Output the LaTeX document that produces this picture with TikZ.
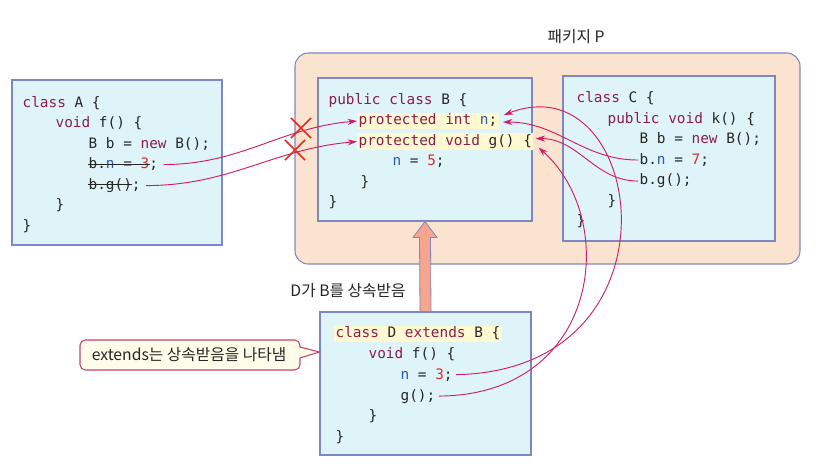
\documentclass[tikz,border=0pt]{standalone}
\usepackage{fontspec}
\setmonofont{DejaVu Sans Mono}
\newfontfamily\kofont{Noto Sans CJK KR}
\usetikzlibrary{arrows.meta,calc,fit,shapes.misc}

\definecolor{pkgfill}{HTML}{FBE4CF}
\definecolor{boxfill}{HTML}{DFF4F8}
\definecolor{boxline}{HTML}{7F86C4}
\definecolor{hlyellow}{HTML}{FFF9D2}
\definecolor{kwred}{HTML}{8A1D4E}
\definecolor{idblue}{HTML}{2B58A8}
\definecolor{numred}{HTML}{D2302C}
\definecolor{codegray}{HTML}{262626}
\definecolor{callred}{HTML}{D21C66}
\definecolor{xred}{HTML}{E42A22}
\definecolor{inhfill}{HTML}{F4A68E}
\definecolor{notefill}{HTML}{FFFDEA}
\definecolor{noteline}{HTML}{C8416C}

\newcommand{\kw}[1]{\textcolor{kwred}{#1}}
\newcommand{\fld}[1]{\textcolor{idblue}{#1}}
\newcommand{\lit}[1]{\textcolor{numred}{#1}}

\tikzset{
	pkgbox/.style={draw=boxline, fill=pkgfill, line width=0.8pt, rounded corners=10pt, inner sep=0pt},
	classbox/.style={draw=boxline, fill=boxfill, line width=0.8pt, inner sep=0pt},
	code/.style={anchor=base west, inner sep=1pt, text=codegray, font=\ttfamily\fontsize{10.8}{13}\selectfont},
	hlcode/.style={code, fill=hlyellow},
	call/.style={draw=callred, line width=0.7pt, -{Stealth[length=7pt,width=4.5pt]}},
	denied/.style={cross out, draw=xred, line width=1.1pt, minimum size=14pt, inner sep=0pt},
	kolabel/.style={font=\kofont\fontsize{11.8}{13}\selectfont, text=codegray},
	notebox/.style={draw=noteline, fill=notefill, line width=0.8pt}
}

\begin{document}
\begin{tikzpicture}[x=0.75pt, y=-0.75pt]

	\useasboundingbox (0, 0) rectangle (823, 473);

	\node[pkgbox, fit={(295, 53) (800, 264)}]    (pkgP) {};
	\node[kolabel]                  (pkglabel) at (576, 37)   {패키지 P};

	\node[classbox, fit={(12, 80) (222, 245)}]   (boxA) {};
	\node[classbox, fit={(318, 78) (532, 221)}]  (boxB) {};
	\node[classbox, fit={(563, 76) (775, 241)}]  (boxC) {};
	\node[classbox, fit={(320, 312) (531, 455)}] (boxD) {};

	\filldraw[fill=inhfill, draw=boxline, line width=0.6pt]
		($(boxD.north)+(-5.5, 0)$) -- ($(boxB.south)+(-5.5, 16)$) -- ($(boxB.south)+(-12, 16)$)
		-- (boxB.south) -- ($(boxB.south)+(12, 16)$) -- ($(boxB.south)+(5.5, 16)$)
		-- ($(boxD.north)+(5.5, 0)$) -- cycle;
	\node[kolabel]                  (inhlabel) at (348, 291)  {D가 B를 상속받음};

	\coordinate (notetip) at (boxD.west |- 0, 352);
	\draw[notebox] (notetip) -- (300, 358) [rounded corners=4pt] -- (300, 370) -- (80, 370)
		-- (80, 340) -- (300, 340) [sharp corners] -- (300, 347) -- cycle;
	\node[kolabel]                  (note) at (189, 355)      {extends는 상속받음을 나타냄};

	\node[code]   (a1) at (21, 108)    {\kw{class} A \{};
	\node[code]   (a2) at (54, 128)    {\kw{void} f() \{};
	\node[code]   (a3) at (87, 148.5)  {B b = \kw{new} B();};
	\node[code]   (a4) at (87, 169)    {b.\fld{n} = \lit{3};};
	\node[code]   (a5) at (87, 189.5)  {b.g();};
	\node[code]   (a6) at (54, 210)    {\}};
	\node[code]   (a7) at (21, 230.5)  {\}};

	\node[code]   (b1) at (327, 104.5) {\kw{public} \kw{class} B \{};
	\node[hlcode] (b2) at (357, 125)   {\kw{protected} \kw{int} \fld{n};};
	\node[hlcode] (b3) at (357, 145.5) {\kw{protected} \kw{void} g() \{};
	\node[code]   (b4) at (391, 166)   {\fld{n} = \lit{5};};
	\node[code]   (b5) at (359, 186.5) {\}};
	\node[code]   (b6) at (327, 207)   {\}};

	\node[code]   (c1) at (575, 103)   {\kw{class} C \{};
	\node[code]   (c2) at (606, 123.5) {\kw{public} \kw{void} k() \{};
	\node[code]   (c3) at (638, 144)   {B b = \kw{new} B();};
	\node[code]   (c4) at (638, 164.5) {b.\fld{n} = \lit{7};};
	\node[code]   (c5) at (638, 185)   {b.g();};
	\node[code]   (c6) at (606, 205.5) {\}};
	\node[code]   (c7) at (575, 226)   {\}};

	\node[hlcode] (d1) at (334, 338)   {\kw{class} D \kw{extends} B \{};
	\node[code]   (d2) at (367, 358.5) {\kw{void} f() \{};
	\node[code]   (d3) at (399, 379)   {\fld{n} = \lit{3};};
	\node[code]   (d4) at (399, 400)   {g();};
	\node[code]   (d5) at (367, 420.5) {\}};
	\node[code]   (d6) at (334, 441)   {\}};

	\draw[codegray, line width=0.6pt] ($(a4.base west)+(1, -5)$) -- ($(a4.base east)+(-10, -5)$);
	\draw[codegray, line width=0.6pt] ($(a5.base west)+(1, -5)$) -- ($(a5.base east)+(-10, -5)$);

	\draw[call] ($(a4.east)+(4, 0)$) to[out=0, in=185] (b2.west);
	\draw[call] ($(a5.east)+(4, 0)$) to[out=0, in=185] (b3.west);
	\node[denied] (x1) at (301, 128) {};
	\node[denied] (x2) at (295, 150) {};

	\draw[call] (c4.west) to[out=180, in=0] ($(b2.east)+(4, 1)$);
	\draw[call] (c5.west) to[out=180, in=0] ($(b3.east)+(2, -3)$);

	\draw[call] ($(d3.east)+(2, 0)$) .. controls (690, 370) and (645, 60) .. ($(b2.east)+(5, -6)$);
	\draw[call] ($(d4.east)+(2, 0)$) .. controls (600, 395) and (620, 220) .. ($(b3.east)+(5, 6)$);

\end{tikzpicture}
\end{document}
